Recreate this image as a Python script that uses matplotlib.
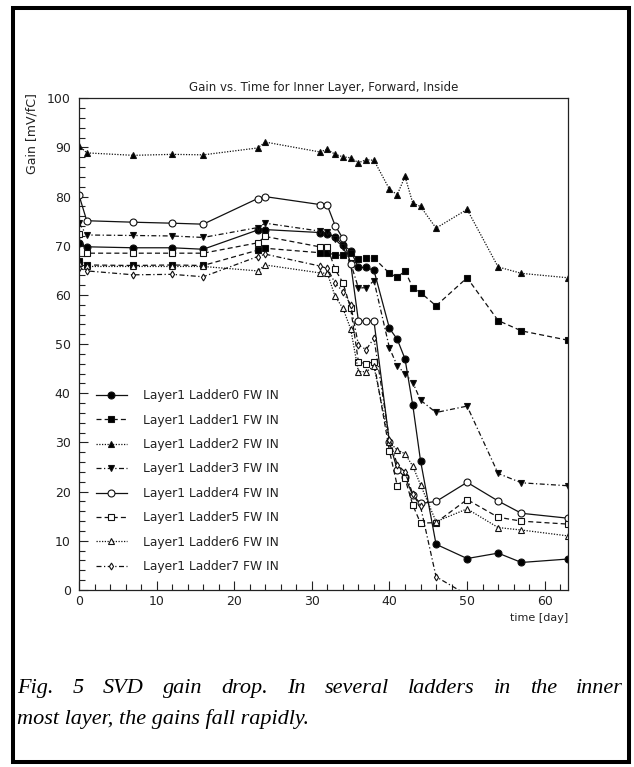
import numpy as np
import matplotlib
matplotlib.use("Agg")
import matplotlib.pyplot as plt
from matplotlib.patches import Rectangle

days = [0, 1, 7, 12, 16, 23, 24, 31, 32, 33, 34, 35, 36, 37, 38,
        40, 41, 42, 43, 44, 46, 50, 54, 57, 63]

ladder0 = [70.5, 69.8, 69.6, 69.6, 69.3, 73.2, 73.3, 72.7, 72.5, 71.8, 70.2, 69.0, 65.6, 65.6, 65.0,
           53.2, 51.0, 47.0, 37.6, 26.3, 9.3, 6.4, 7.5, 5.6, 6.3]
ladder1 = [67.0, 66.1, 66.0, 66.1, 66.0, 69.1, 69.5, 68.6, 68.6, 68.1, 68.1, 68.5, 67.3, 67.5, 67.5,
           64.4, 63.6, 64.9, 61.5, 60.5, 57.8, 63.5, 54.8, 52.7, 50.8]
ladder2 = [90.4, 88.9, 88.4, 88.6, 88.5, 89.9, 91.1, 89.1, 89.6, 88.6, 88.1, 87.9, 86.9, 87.5, 87.4,
           81.5, 80.4, 84.1, 78.7, 78.0, 73.6, 77.4, 65.7, 64.4, 63.5]
ladder3 = [74.6, 72.2, 72.1, 72.0, 71.7, 73.7, 74.6, 73.0, 72.9, 71.3, 69.8, 66.5, 61.4, 61.5, 62.9,
           49.2, 45.6, 44.0, 42.2, 38.6, 36.1, 37.4, 23.7, 21.8, 21.2]
ladder4 = [80.3, 75.1, 74.8, 74.6, 74.4, 79.6, 80.0, 78.4, 78.2, 74.1, 71.5, 66.4, 54.7, 54.7, 54.7,
           30.0, 24.5, 23.0, 19.3, 17.6, 18.0, 21.9, 18.1, 15.6, 14.6]
ladder5 = [72.5, 68.5, 68.5, 68.5, 68.5, 70.6, 71.9, 69.8, 69.8, 65.2, 62.5, 57.3, 46.4, 46.0, 46.4,
           28.3, 21.2, 22.7, 17.3, 13.6, 13.7, 18.4, 14.8, 14.0, 13.4]
ladder6 = [66.5, 65.8, 65.8, 65.8, 65.8, 64.9, 66.1, 64.5, 64.4, 59.7, 57.3, 53.1, 44.4, 44.4, 45.5,
           30.0, 28.5, 27.7, 25.2, 21.4, 13.9, 16.5, 12.7, 12.2, 11.0]
ladder7 = [65.5, 64.9, 64.1, 64.2, 63.7, 67.8, 68.3, 65.9, 65.4, 62.4, 60.7, 58.0, 49.8, 48.9, 51.2,
           30.6, 25.5, 24.0, 19.5, 17.0, 2.7, -1.0, np.nan, np.nan, np.nan]

labels = ["Layer1 Ladder0 FW IN", "Layer1 Ladder1 FW IN", "Layer1 Ladder2 FW IN",
          "Layer1 Ladder3 FW IN", "Layer1 Ladder4 FW IN", "Layer1 Ladder5 FW IN",
          "Layer1 Ladder6 FW IN", "Layer1 Ladder7 FW IN"]

title = "Gain vs. Time for Inner Layer, Forward, Inside"
ylabel = "Gain [mV/fC]"
xlabel = "time [day]"
caption1 = "Fig. 5 SVD gain drop. In several ladders in the inner"
caption2 = "most layer, the gains fall rapidly."

series = [ladder0, ladder1, ladder2, ladder3, ladder4, ladder5, ladder6, ladder7]
styles = [
    dict(ls="-", marker="o", mfc="black", ms=5.0),
    dict(ls=(0, (4, 2.5)), marker="s", mfc="black", ms=5.0),
    dict(ls=(0, (1, 1.2)), marker="^", mfc="black", ms=5.0),
    dict(ls=(0, (4, 2, 1, 2)), marker="v", mfc="black", ms=5.0),
    dict(ls="-", marker="o", mfc="white", ms=5.0),
    dict(ls=(0, (4, 2.5)), marker="s", mfc="white", ms=5.0),
    dict(ls=(0, (1, 1.2)), marker="^", mfc="white", ms=5.0),
    dict(ls=(0, (4, 2, 1, 2)), marker="d", mfc="white", ms=3.5),
]

W, H = 634, 767
fig = plt.figure(figsize=(W / 100, H / 100), dpi=100)
fig.patch.set_facecolor("white")

ax = fig.add_axes([79 / W, 1 - 590 / H, (568 - 79) / W, (590 - 98.3) / H])
for s, st in zip(series, styles):
    ax.plot(days, s, color="#111111", lw=0.9, mec="#111111", mew=0.8, **st)

ax.set_xlim(0, 63)
ax.set_ylim(0, 100)
ax.set_xticks(np.arange(0, 61, 10))
ax.set_xticks(np.arange(0, 64, 2), minor=True)
ax.set_yticks(np.arange(0, 101, 10))
ax.set_yticks(np.arange(0, 101, 2), minor=True)
ax.tick_params(which="both", direction="in", top=False, right=False,
               labelsize=9, colors="#222222")
ax.tick_params(axis="y", which="both", pad=6)
ax.tick_params(axis="x", which="both", pad=3.5)
ax.tick_params(which="major", length=6.5, width=0.8)
ax.tick_params(which="minor", length=4, width=0.8)
for sp in ax.spines.values():
    sp.set_linewidth(0.9)
    sp.set_color("#222222")

leg = ax.legend(labels, loc="upper left", bbox_to_anchor=(0.025, 0.418),
                frameon=False, fontsize=8.8, handlelength=2.5,
                handletextpad=1.35, labelspacing=0.93, borderaxespad=0)
for t in leg.get_texts():
    t.set_color("#222222")

fig.text(323.5 / W, 1 - 88 / H, title, ha="center", va="center", fontsize=8.5, color="#222222")
fig.text(32 / W, 1 - 93 / H, ylabel, ha="center", va="top", rotation=90, fontsize=9, color="#222222")
fig.text(568 / W, 1 - 618 / H, xlabel, ha="right", va="center", fontsize=8, color="#222222")

# page border
fig.patches.append(Rectangle((13 / W, 1 - 762 / H), (629 - 13) / W, (762 - 8) / H,
                             transform=fig.transFigure, fill=False, lw=2.9,
                             ec="black", figure=fig))

# justified caption
cap_font = dict(family="Liberation Serif", style="italic", fontsize=16, color="black")
renderer = fig.canvas.get_renderer()
words = caption1.split(" ")
x0, x1 = 17, 623
texts = []
total = 0
for w in words:
    t = fig.text(0, 1 - 693 / H, w, ha="left", va="baseline", **cap_font)
    bb = t.get_window_extent(renderer)
    texts.append((t, bb.width))
    total += bb.width
gap = (x1 - x0 - total) / (len(words) - 1)
x = x0
for t, wd in texts:
    t.set_x(x / W)
    x += wd + gap
fig.text(x0 / W, 1 - 724 / H, caption2, ha="left", va="baseline", **cap_font)

fig.savefig("out.png", dpi=100)
